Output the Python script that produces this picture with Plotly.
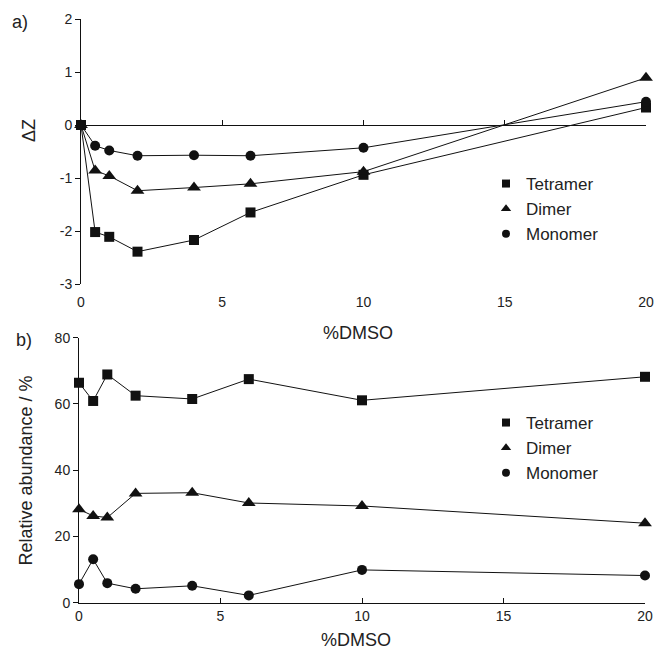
import plotly.graph_objects as go

# ---- data ----
dmso = [0, 0.5, 1, 2, 4, 6, 10, 20]

dz_tetramer = [0, -2.02, -2.11, -2.39, -2.17, -1.65, -0.94, 0.33]
dz_dimer = [0, -0.86, -0.96, -1.24, -1.18, -1.11, -0.88, 0.89]
dz_monomer = [0, -0.39, -0.48, -0.58, -0.57, -0.58, -0.43, 0.44]

ab_tetramer = [66.4, 60.9, 68.9, 62.5, 61.5, 67.5, 61.1, 68.2]
ab_dimer = [28.2, 26.2, 25.7, 33.0, 33.2, 30.1, 29.2, 24.0]
ab_monomer = [5.6, 13.1, 5.9, 4.2, 5.1, 2.2, 9.9, 8.2]

series_names = ["Tetramer", "Dimer", "Monomer"]
symbols = ["square", "triangle-up", "circle"]

x_ticks = [0, 5, 10, 15, 20]
dz_ticks = [-3, -2, -1, 0, 1, 2]
ab_ticks = [0, 20, 40, 60, 80]

FONT = "Liberation Sans, Arial, sans-serif"
INK = "#111111"

W, H = 654, 650
def px(xp):
    return xp / W
def py(yp):
    return 1 - yp / H

fig = go.Figure()

top = [dz_tetramer, dz_dimer, dz_monomer]
bot = [ab_tetramer, ab_dimer, ab_monomer]
msize = {"square": 10, "triangle-up": 12, "circle": 10}
lsize = {"square": 8, "triangle-up": 9, "circle": 8}

for name, sym, vals in zip(series_names, symbols, top):
    fig.add_trace(go.Scatter(
        x=dmso, y=vals, mode="lines+markers", name=name, showlegend=False,
        line=dict(color=INK, width=1), cliponaxis=False,
        marker=dict(symbol=sym, size=msize[sym], color=INK),
        xaxis="x", yaxis="y"))
for name, sym, vals in zip(series_names, symbols, bot):
    fig.add_trace(go.Scatter(
        x=dmso, y=vals, mode="lines+markers", name=name, showlegend=False,
        line=dict(color=INK, width=1), cliponaxis=False,
        marker=dict(symbol=sym, size=msize[sym], color=INK),
        xaxis="x2", yaxis="y2"))

# legend-only entries
for name, sym in zip(series_names, symbols):
    fig.add_trace(go.Scatter(x=[None], y=[None], mode="markers", name=name,
                             marker=dict(symbol=sym, size=lsize[sym], color=INK),
                             legend="legend", xaxis="x", yaxis="y"))
for name, sym in zip(series_names, symbols):
    fig.add_trace(go.Scatter(x=[None], y=[None], mode="markers", name=name,
                             marker=dict(symbol=sym, size=lsize[sym], color=INK),
                             legend="legend2", xaxis="x2", yaxis="y2"))

# dummy trace for the zero-line axis of panel a
fig.add_trace(go.Scatter(x=[None], y=[None], mode="markers", showlegend=False,
                         xaxis="x3", yaxis="y", hoverinfo="skip"))

tickfont = dict(family=FONT, size=14, color="#222222")

fig.update_layout(
    template="none",
    width=W, height=H,
    margin=dict(l=0, r=0, t=0, b=0, pad=0),
    paper_bgcolor="white", plot_bgcolor="white",
    font=dict(family=FONT, color=INK),
    xaxis=dict(domain=[px(81), px(646)], range=[0, 20], anchor="free",
               position=py(284), showline=False, showgrid=False,
               zeroline=False, tickvals=x_ticks, ticks="outside",
               ticklen=5, tickcolor="rgba(0,0,0,0)", tickfont=tickfont,
               automargin=False, ticklabeloverflow="allow"),
    xaxis3=dict(domain=[px(81), px(646)], range=[0, 20], overlaying="x",
                anchor="free", position=py(125), showline=True,
                linecolor=INK, linewidth=1, showgrid=False, zeroline=False,
                tickvals=x_ticks, ticks="inside", ticklen=5, tickcolor=INK,
                showticklabels=False, automargin=False),
    yaxis=dict(domain=[py(284), py(19)], range=[-3, 2], anchor="x",
               showline=True, linecolor=INK, linewidth=1, showgrid=False,
               zeroline=False, tickvals=dz_ticks,
               ticktext=[str(v) for v in dz_ticks], ticks="outside", ticklen=5,
               tickcolor=INK, tickfont=tickfont, automargin=False),
    xaxis2=dict(domain=[px(79), px(645)], range=[0, 20], anchor="y2",
                showline=True, linecolor=INK, linewidth=1, showgrid=False,
                zeroline=False, tickvals=x_ticks, ticks="inside", ticklen=5,
                tickcolor=INK, tickfont=tickfont, automargin=False,
                ticklabeloverflow="allow"),
    yaxis2=dict(domain=[py(602.7), py(337.7)], range=[0, 80], anchor="x2",
                showline=True, linecolor=INK, linewidth=1, showgrid=False,
                zeroline=False, tickvals=ab_ticks, ticks="outside", ticklen=5,
                tickcolor=INK, tickfont=tickfont, automargin=False),
    legend=dict(x=px(486), y=py(166), xanchor="left", yanchor="top",
                bgcolor="rgba(0,0,0,0)", font=dict(family=FONT, size=17, color="#222222"),
                tracegroupgap=0),
    legend2=dict(x=px(486), y=py(405), xanchor="left", yanchor="top",
                 bgcolor="rgba(0,0,0,0)", font=dict(family=FONT, size=17, color="#222222"),
                 tracegroupgap=0),
    showlegend=True,
)

ann_font = dict(family=FONT, size=18, color="#222222")
anns = [
    dict(text="a)", x=px(20), y=py(22)),
    dict(text="b)", x=px(24), y=py(340)),
    dict(text="ΔZ", x=px(29), y=py(131), textangle=-90),
    dict(text="Relative abundance / %", x=px(25), y=py(470.5), textangle=-90),
    dict(text="%DMSO", x=px(357.5), y=py(333)),
    dict(text="%DMSO", x=px(356), y=py(640)),
]
for a in anns:
    fig.add_annotation(xref="paper", yref="paper", showarrow=False,
                       xanchor="center", yanchor="middle", font=ann_font, **a)

fig.write_html("out.html",
               config={"displayModeBar": False},
               post_script="document.body.style.margin='0';document.body.style.overflow='hidden';")
